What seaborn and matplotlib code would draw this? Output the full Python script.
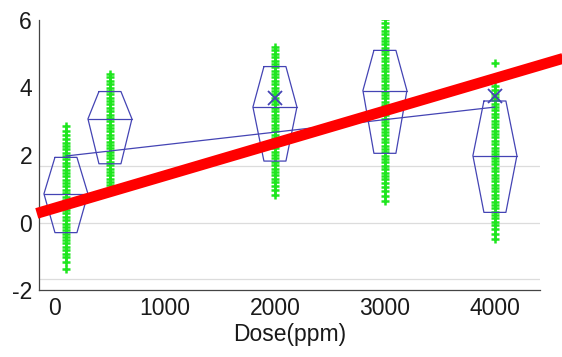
import numpy as np
import pandas as pd
import matplotlib
matplotlib.use("Agg")
import matplotlib.pyplot as plt
import seaborn as sns

# ---------------- data ----------------
doses = [100, 500, 2000, 3000, 4000]

vals_100 = [-1.38, -1.18, -1.03, -0.92, -0.82, -0.72, -0.62, -0.53, -0.43, -0.33, -0.23,
            -0.13, -0.03, 0.07, 0.17, 0.27, 0.37, 0.47, 0.57, 0.67, 0.77, 0.87, 0.97, 1.07,
            1.17, 1.27, 1.37, 1.47, 1.57, 1.67, 1.77, 1.87, 1.97, 2.07, 2.17, 2.27, 2.37,
            2.47, 2.58, 2.70, 2.86]
vals_500 = [1.00, 1.10, 1.20, 1.30, 1.40, 1.50, 1.60, 1.70, 1.80, 1.90, 2.00, 2.10, 2.20,
            2.30, 2.40, 2.50, 2.60, 2.70, 2.80, 2.90, 3.00, 3.10, 3.20, 3.30, 3.40, 3.50,
            3.60, 3.70, 3.80, 3.90, 4.00, 4.10, 4.20, 4.30, 4.40]
vals_2000 = [0.82, 0.95, 1.08, 1.20, 1.30, 1.40, 1.50, 1.60, 1.70, 1.80, 1.90, 2.00, 2.10,
             2.20, 2.30, 2.40, 2.50, 2.60, 2.70, 2.80, 2.90, 3.00, 3.10, 3.20, 3.30, 3.40,
             3.50, 3.60, 3.70, 3.80, 3.90, 4.00, 4.10, 4.20, 4.30, 4.40, 4.50, 4.60, 4.70,
             4.80, 4.90, 5.00, 5.10, 5.19]
vals_3000 = [0.63, 0.78, 0.92, 1.05, 1.17, 1.28, 1.38, 1.48, 1.58, 1.68, 1.78, 1.88, 1.98,
             2.08, 2.18, 2.28, 2.38, 2.48, 2.58, 2.68, 2.78, 2.88, 2.98, 3.08, 3.18, 3.28,
             3.38, 3.48, 3.58, 3.68, 3.78, 3.88, 3.98, 4.08, 4.18, 4.28, 4.38, 4.48, 4.58,
             4.68, 4.78, 4.88, 4.98, 5.08, 5.18, 5.28, 5.38, 5.48, 5.58, 5.68, 5.78, 5.90,
             6.03]
vals_4000 = [-0.48, -0.33, -0.20, -0.08, 0.02, 0.12, 0.22, 0.32, 0.42, 0.52, 0.62, 0.72,
             0.82, 0.92, 1.02, 1.12, 1.22, 1.32, 1.42, 1.52, 1.62, 1.72, 1.82, 1.92, 2.02,
             2.12, 2.22, 2.32, 2.42, 2.52, 2.62, 2.72, 2.82, 2.92, 3.02, 3.12, 3.22, 3.32,
             3.42, 3.52, 3.62, 3.72, 3.82, 3.92, 4.04, 4.74]

box_top = [1.93, 3.88, 4.62, 5.10, 3.60]
box_med = [0.85, 3.07, 3.42, 3.91, 1.98]
box_bot = [-0.30, 1.74, 1.82, 2.05, 0.30]

mean_x = [2000, 4000]
mean_y = [3.70, 3.76]

fit_x = [100, 4000]
fit_y = [1.97, 3.42]

trend_x = [-165, 4700]
trend_y = [0.27, 4.94]

ref_y = [0.0, 1.66, -1.66]

xticks = [0, 1000, 2000, 3000, 4000]
yticks = [-2, 0, 2, 4, 6]

# ---------------- plotting ----------------
sns.set_style("white")
plt.rcParams["font.family"] = ["Liberation Sans", "DejaVu Sans"]

fig = plt.figure(figsize=(5.62, 3.57), dpi=100)
ax = fig.add_axes([39 / 562, 1 - 290 / 357, (540 - 39) / 562, (290 - 20) / 357])

rows = []
for d, vs in zip(doses, [vals_100, vals_500, vals_2000, vals_3000, vals_4000]):
    for v in vs:
        rows.append({"dose": d, "value": v})
df = pd.DataFrame(rows)

green = "#1ee61e"
blue = "#4444b4"

for r in ref_y:
    ax.axhline(r, color="#dcdcdc", lw=0.9, zorder=1)

sns.scatterplot(data=df, x="dose", y="value", marker="+", color=green, s=30,
                linewidth=1.8, ax=ax, zorder=2, legend=False)

hw_mid, hw_flat = 200, 100
for d, t, m, b in zip(doses, box_top, box_med, box_bot):
    xs = [d - hw_flat, d + hw_flat, d + hw_mid, d + hw_flat, d - hw_flat, d - hw_mid, d - hw_flat]
    ys = [t, t, m, b, b, m, t]
    ax.plot(xs, ys, color=blue, lw=0.9, zorder=3)
    ax.plot([d - hw_mid, d + hw_mid], [m, m], color=blue, lw=0.9, zorder=3)

ax.plot(fit_x, fit_y, color=blue, lw=0.9, zorder=3)
ax.plot(mean_x, mean_y, linestyle="none", marker="x", color=blue, markersize=10,
        markeredgewidth=1.3, zorder=4)

ax.plot(trend_x, trend_y, color="#ff0000", lw=7.8, solid_capstyle="butt",
        clip_on=False, zorder=6)

ax.set_xlim(-145, 4410)
ax.set_ylim(-2, 6)
ax.set_xticks(xticks)
ax.set_yticks(yticks)
ax.set_xticklabels([str(t) for t in xticks])
ax.set_yticklabels([str(t) for t in yticks])
ax.tick_params(direction="in", length=4, width=0.9, color="#444444",
               labelsize=16.5, labelcolor="#1a1a1a", pad=5)
ax.set_xlabel("Dose(ppm)", fontsize=16.5, color="#1a1a1a", labelpad=2)
ax.set_ylabel("")

sns.despine(ax=ax, top=True, right=True)
for s in ["left", "bottom"]:
    ax.spines[s].set_color("#444444")
    ax.spines[s].set_linewidth(0.9)

fig.savefig("out.png", dpi=100)
